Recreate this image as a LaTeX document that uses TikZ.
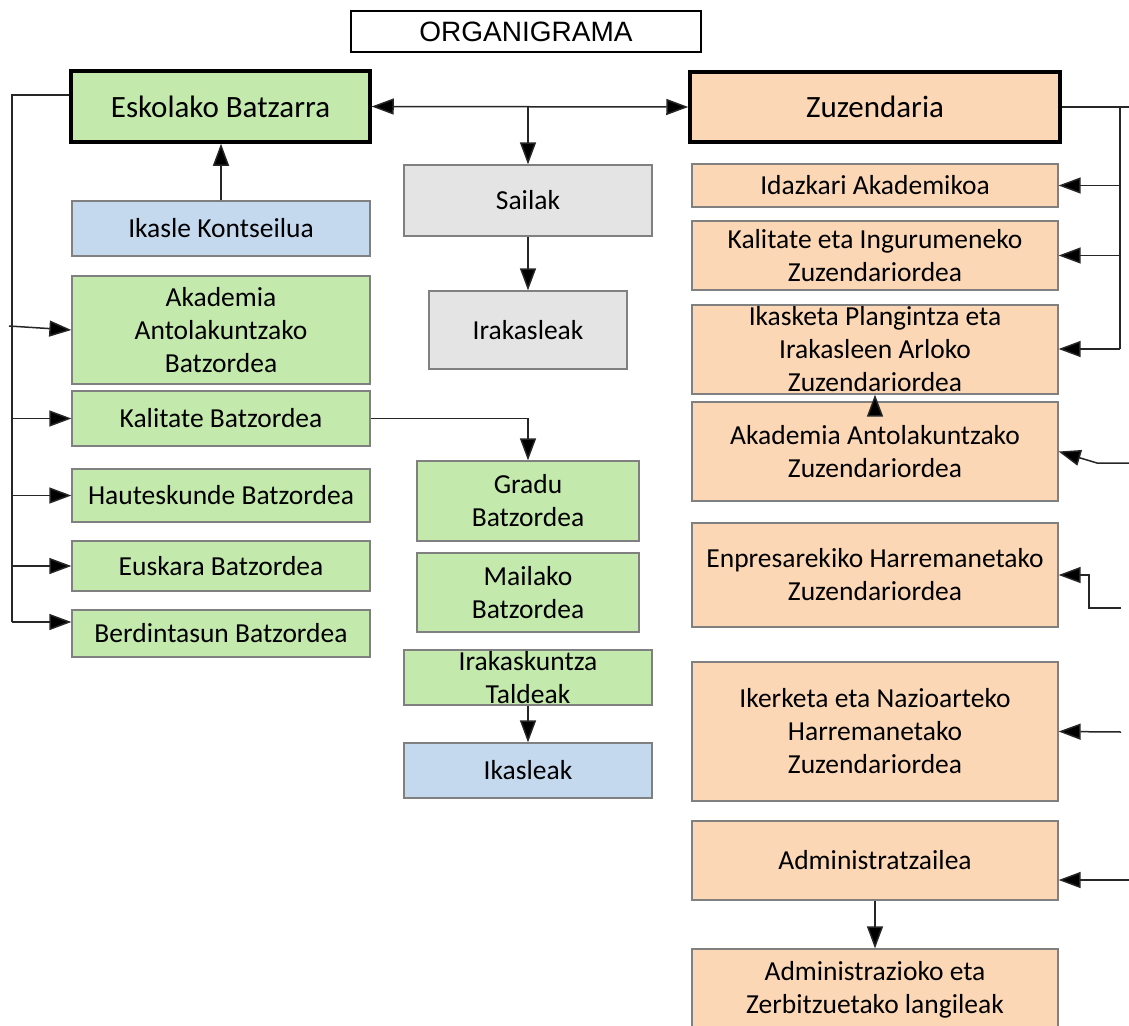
\documentclass[tikz,border=0pt]{standalone}
\usepackage{fontspec}
\setmainfont{Carlito}
\newfontfamily\titlefont{Liberation Sans}
\usetikzlibrary{arrows.meta}
\definecolor{berdea}{RGB}{196,233,172}
\definecolor{urdina}{RGB}{196,216,238}
\definecolor{laranja}{RGB}{252,215,182}
\definecolor{grisa}{RGB}{228,228,228}
\tikzset{organi/.style={x=1pt, y=-1pt, line width=1.5pt, draw=black!85, >={Triangle[length=22pt,width=16pt,fill=black]}}}
\tikzset{kutxa/.style={draw=black!50, line width=1.3pt, inner sep=0pt, align=center, font=\fontsize{27.5}{33}\selectfont}}
\tikzset{buru/.style={kutxa, draw=black, line width=3.5pt, font=\fontsize{31}{37}\selectfont}}

\begin{document}
\begin{tikzpicture}[organi]
	\useasboundingbox (0,0) rectangle (1129,1025);
	\clip (0,0) rectangle (1129,1025);
	\node[draw=black, line width=1.4pt, minimum width=350, minimum height=41, font=\titlefont\fontsize{28}{32}\selectfont] (titulua) at (526,31.5) {ORGANIGRAMA};
	% ezkerreko zutabea
	\node[buru, fill=berdea, minimum width=299, minimum height=71] (eskolako) at (220.5,106.5) {Eskolako Batzarra};
	\node[kutxa, fill=urdina, minimum width=298, minimum height=55] (ikaslek) at (221,228.5) {Ikasle Kontseilua};
	\node[kutxa, fill=berdea, minimum width=298, minimum height=108] (akadb) at (221,330) {Akademia\\Antolakuntzako\\Batzordea};
	\node[kutxa, fill=berdea, minimum width=298, minimum height=55] (kalib) at (221,418.5) {Kalitate Batzordea};
	\node[kutxa, fill=berdea, minimum width=298, minimum height=53] (hautes) at (221,495.5) {Hauteskunde Batzordea};
	\node[kutxa, fill=berdea, minimum width=298, minimum height=50] (euskara) at (221,566) {Euskara Batzordea};
	\node[kutxa, fill=berdea, minimum width=298, minimum height=47] (berdin) at (221,633.5) {Berdintasun Batzordea};
	% erdiko zutabea
	\node[kutxa, fill=grisa, minimum width=248, minimum height=71] (sailak) at (528,200.5) {Sailak};
	\node[kutxa, fill=grisa, minimum width=198, minimum height=78] (irakasleak) at (528,330) {Irakasleak};
	\node[kutxa, fill=berdea, minimum width=222, minimum height=80] (gradu) at (528,501) {Gradu\\Batzordea};
	\node[kutxa, fill=berdea, minimum width=222, minimum height=79] (mailako) at (528,592.5) {Mailako\\Batzordea};
	\node[kutxa, fill=berdea, minimum width=248, minimum height=55] (irakask) at (528,677.5) {Irakaskuntza\\Taldeak};
	\node[kutxa, fill=urdina, minimum width=248, minimum height=55] (ikasleak) at (528,770.5) {Ikasleak};
	% eskuineko zutabea
	\node[buru, fill=laranja, minimum width=370, minimum height=70] (zuzen) at (875,107) {Zuzendaria};
	\node[kutxa, fill=laranja, minimum width=366, minimum height=43] (idazkari) at (875,185.5) {Idazkari Akademikoa};
	\node[kutxa, fill=laranja, minimum width=366, minimum height=69] (kaling) at (875,255.5) {Kalitate eta Ingurumeneko\\Zuzendariordea};
	\node[kutxa, fill=laranja, minimum width=366, minimum height=89] (ikasketa) at (875,349.5) {Ikasketa Plangintza eta\\Irakasleen Arloko\\Zuzendariordea};
	\node[kutxa, fill=laranja, minimum width=366, minimum height=99] (akadz) at (875,451.5) {Akademia Antolakuntzako\\Zuzendariordea};
	\node[kutxa, fill=laranja, minimum width=366, minimum height=104] (enpresa) at (875,575) {Enpresarekiko Harremanetako\\Zuzendariordea};
	\node[kutxa, fill=laranja, minimum width=366, minimum height=139] (ikerketa) at (875,731.5) {Ikerketa eta Nazioarteko\\Harremanetako\\Zuzendariordea};
	\node[kutxa, fill=laranja, minimum width=366, minimum height=79] (admin) at (875,860.5) {Administratzailea};
	\node[kutxa, fill=laranja, minimum width=366, minimum height=82] (langile) at (875,990) {Administrazioko eta\\Zerbitzuetako langileak};
	% loturak
	\coordinate (ezk1) at (12,95);
	\coordinate (ezk2) at (12,622);
	\coordinate (akadb-in) at (9,326);
	\coordinate (esk0) at (1129,107);
	\coordinate (esk1) at (1120,107);
	\coordinate (esk2) at (1120,349);
	\coordinate (akadz-in) at (1129,463);
	\coordinate (enpresa-in) at (1121,608);
	\coordinate (ikerketa-in) at (1121,732);
	\coordinate (admin-in) at (1129,880);
	\draw[<->] (eskolako.east) -- (zuzen.west);
	\draw[->] (eskolako.east -| sailak.north) -- (sailak.north);
	\draw[->] (sailak.south) -- (irakasleak.north);
	\draw[->] (ikaslek.north) -- (ikaslek.north |- eskolako.south);
	\draw (ezk1 -| eskolako.west) -- (ezk1) -- (ezk2);
	\draw[->] (ezk2) -- (ezk2 -| berdin.west);
	\draw[->] (akadb-in) -- (akadb.west);
	\foreach \n in {kalib,hautes,euskara}
		\draw[->] (ezk1 |- \n.west) -- (\n.west);
	\draw[->] (kalib.east) -| (gradu.north);
	\draw[->] (irakask.south) -- (ikasleak.north);
	\draw (zuzen.east) -- (esk0);
	\draw (esk1) -- (esk2);
	\draw[->] (esk2) -- (esk2 -| ikasketa.east);
	\foreach \n in {idazkari,kaling}
		\draw[->] (esk1 |- \n.east) -- (\n.east);
	\draw[->] (akadz-in) -- ++(-32,0) -- (akadz.east);
	\draw[->] (enpresa-in) -- ++(-32,0) |- (enpresa.east);
	\draw[->] (ikerketa-in) -- (ikerketa.east);
	\draw[->] (admin-in) -- (admin-in -| admin.east);
	\draw[->] (akadz.north) -- (ikasketa.south);
	\draw[->] (admin.south) -- (langile.north);
\end{tikzpicture}
\end{document}
